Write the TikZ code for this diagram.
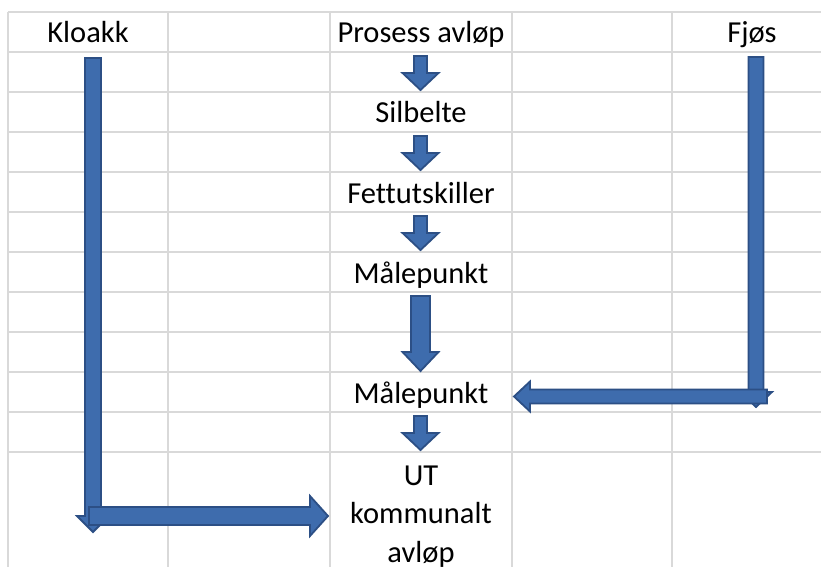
\documentclass[tikz,border=0pt]{standalone}
\usepackage{fontspec}
\setmainfont{Carlito}[Ligatures={NoCommon}]
\definecolor{gridc}{HTML}{D9D9D9}
\definecolor{arrfill}{HTML}{3E6CAD}
\definecolor{arredge}{HTML}{2C4F85}
% down-pointing block arrow: centre x, shaft half, head half, top, head base, tip
\newcommand\blkdown[6]{%
  \draw[blk] (#1-#2,#4) -- (#1+#2,#4) -- (#1+#2,#5) -- (#1+#3,#5) -- (#1,#6)
    -- (#1-#3,#5) -- (#1-#2,#5) -- cycle;}
% horizontal block arrow: centre y, shaft half, head half, tail x, head base x, tip x
\newcommand\blkhoriz[6]{%
  \draw[blk] (#4,#1-#2) -- (#5,#1-#2) -- (#5,#1-#3) -- (#6,#1) -- (#5,#1+#3)
    -- (#5,#1+#2) -- (#4,#1+#2) -- cycle;}
\begin{document}
\begin{tikzpicture}[x=1pt,y=-1pt,
  gridline/.style={draw=gridc, line width=1.5pt},
  blk/.style={fill=arrfill, draw=arredge, line width=1.8pt, line join=miter},
  lbl/.style={font=\fontsize{30.5}{38}\selectfont, anchor=base, inner sep=0pt, text=black}]
\useasboundingbox (0,0) rectangle (821,567);
\fill[white] (0,0) rectangle (821,567);
% spreadsheet grid
\foreach \y in {12,52,...,452} \draw[gridline] (8,\y) -- (821,\y);
\foreach \x in {8,168,330,512,672} \draw[gridline] (\x,12) -- (\x,567);
% labels
\node[lbl] (kloakk) at (88,43) {Kloakk};
\node[lbl] (prosess) at (421,43) {Prosess avløp};
\node[lbl] (fjos) at (752,43) {Fjøs};
\node[lbl] (silbelte) at (421,123) {Silbelte};
\node[lbl] (fett) at (421,203) {Fettutskiller};
\node[lbl] (male1) at (421,283) {Målepunkt};
\node[lbl] (male2) at (421,403) {Målepunkt};
\node[lbl] (ut1) at (421,485) {UT};
\node[lbl] (ut2) at (421,523) {kommunalt};
\node[lbl] (ut3) at (421,562) {avløp};
% small down arrows
\blkdown{420.5}{6.5}{18}{56}{73}{90}
\blkdown{420.5}{6.5}{18}{136}{153}{170}
\blkdown{420.5}{6.5}{18}{216}{233}{250}
\blkdown{420.5}{9.5}{18}{296}{352}{371}
\blkdown{420.5}{6.5}{18}{416}{433}{450}
% Fjøs bent arrow
\blkdown{756}{7.5}{16}{57}{392}{407}
\blkhoriz{396.5}{7}{15}{767}{530}{514}
% Kloakk bent arrow
\blkdown{93}{8}{16}{58}{516}{532}
\blkhoriz{516}{9}{20}{89}{310}{328}
\end{tikzpicture}
\end{document}
